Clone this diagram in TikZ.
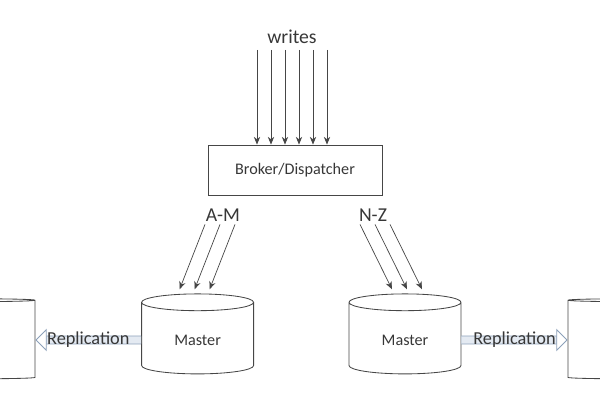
\documentclass[tikz,border=0pt]{standalone}
\usepackage{fontspec}
\setmainfont{Carlito}
\usepackage{tikz}
\usetikzlibrary{shapes.geometric, arrows.meta, positioning, calc}
\definecolor{mydark}{RGB}{70,70,70}
\definecolor{mytext}{RGB}{55,55,55}
\definecolor{repline}{RGB}{140,160,185}
\definecolor{repfill}{RGB}{228,234,242}
\tikzset{
  broker/.style={rectangle, draw=mydark, text=mytext,
    minimum width=4.35cm, minimum height=1.25cm,
    font=\fontsize{11.5}{14}\selectfont, line width=0.6pt},
  store/.style={cylinder, shape border rotate=90, aspect=0.3, draw=mydark,
    text=mytext, minimum width=2.8cm, minimum height=2cm,
    font=\fontsize{11.5}{14}\selectfont, line width=0.6pt},
  lbl/.style={text=mytext, font=\fontsize{14}{17}\selectfont, inner sep=1pt},
  arrow/.style={-{Stealth[length=5.5pt, width=4.5pt]}, line width=0.5pt, color=mydark},
  reparrow/.style={draw=repline, double=repfill, double distance=5pt, line width=0.6pt,
    -{Triangle[open, length=8pt, width=16pt]}},
  replbl/.style={text=mytext, font=\fontsize{13}{15}\selectfont, inner sep=0pt}
}
\begin{document}
\begin{tikzpicture}
  \useasboundingbox (0,0) rectangle (15,10);

  % Incoming writes
  \node[lbl] (writes) at (7.3,9.075) {writes};
  \node[broker] (disp) at (7.375,5.75) {Broker/Dispatcher};
  \foreach \x [count=\i] in {6.425,6.775,7.125,7.475,7.825,8.175} {
    \coordinate (w\i) at (\x,8.75);
    \draw[arrow] (w\i) -- (disp.north -| w\i);
  }

  % Masters and (cut off) slaves
  \node[store] (mL) at (4.94,1.5) {Master};
  \node[store] (mR) at (10.125,1.5) {Master};
  \node[store] (sL) at (-0.525,1.5) {};
  \node[store] (sR) at (15.6,1.5) {};

  % Key ranges
  \node[lbl] (am) at (5.575,4.625) {A-M};
  \node[lbl] (nz) at (9.325,4.625) {N-Z};
  \foreach \dx in {-0.45,-0.075,0.3}
    \draw[arrow] ([xshift=\dx cm, yshift=-1pt]am.south) -- ([xshift=\dx cm, yshift=3pt]mL.north);
  \foreach \dx in {-0.325,0.05,0.425}
    \draw[arrow] ([xshift=\dx cm, yshift=-1pt]nz.south) -- ([xshift=\dx cm, yshift=3pt]mR.north);

  % Replication
  \draw[reparrow] (mL.west) -- (sL.east)
    node[midway, replbl] {Replication};
  \draw[reparrow] (mR.east) -- (sR.west)
    node[midway, replbl] {Replication};
\end{tikzpicture}
\end{document}
